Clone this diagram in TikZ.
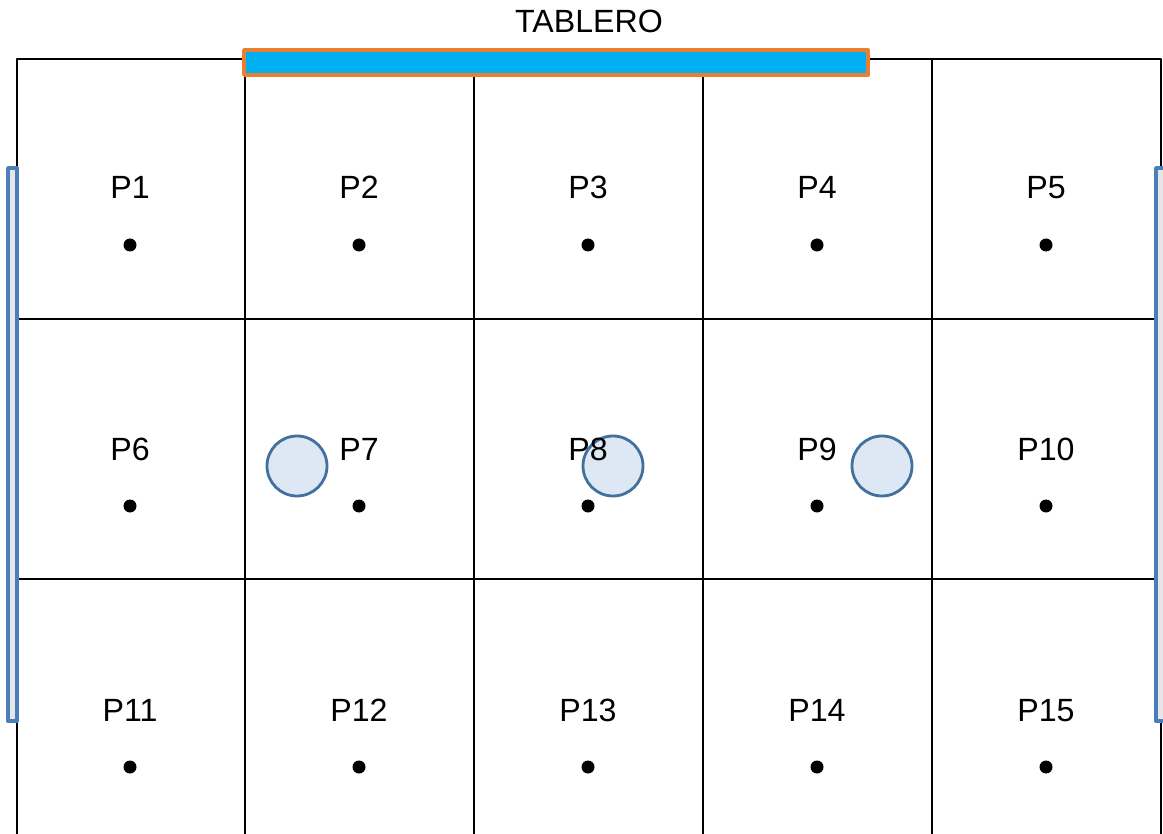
\documentclass[tikz,border=0pt]{standalone}
\usepackage{fontspec}
\setmainfont{Liberation Sans}
\definecolor{barra}{HTML}{00B0F0}
\definecolor{borde}{HTML}{ED7D31}
\definecolor{lado}{HTML}{E7E6E6}
\definecolor{ladoborde}{HTML}{4A7EBB}
\definecolor{silla}{HTML}{DEE8F5}
\definecolor{sillaborde}{HTML}{41719C}
\begin{document}
\begin{tikzpicture}[x=.02cm,y=-.02cm,line join=round,font=\fontsize{18.3}{21}\selectfont]
			\useasboundingbox (0,0) rectangle (1163,834);
			% cuadricula
			\draw[line width=1.1pt] (17,834) -- (17,59) -- (1161,59) -- (1161,834);
			\foreach \x in {245,474,703,932} \draw[line width=1.1pt] (\x,59) -- (\x,834);
			\foreach \y in {319,579} \draw[line width=1.1pt] (17,\y) -- (1161,\y);
			% tablero y laterales
			\draw[fill=barra,draw=borde,line width=2.2pt] (244,50) rectangle (868,75);
			\draw[fill=lado,draw=ladoborde,line width=2.2pt] (8,168) rectangle (17,721);
			\draw[fill=lado,draw=ladoborde,line width=2.2pt] (1156,168) rectangle (1167,721);
			\node[anchor=base] (tab) at (589,33) {TABLERO};
			% sillas
			\foreach \x/\s in {297/a,613/b,882/c}
			\draw[fill=silla,draw=sillaborde,line width=1.6pt] (\x,466) circle (30) coordinate (s\s);
			% puestos
			\foreach \f in {0,1,2}
			\foreach \c in {1,...,5}{
				\pgfmathtruncatemacro{\n}{5*\f+\c}
				\node[anchor=base] (P\n) at (130+229*\c-229,199+261*\f) {P\n};
				\fill (130+229*\c-229,245+261*\f) circle (6.5) coordinate (d\n);
			}
	\end{tikzpicture}
\end{document}
